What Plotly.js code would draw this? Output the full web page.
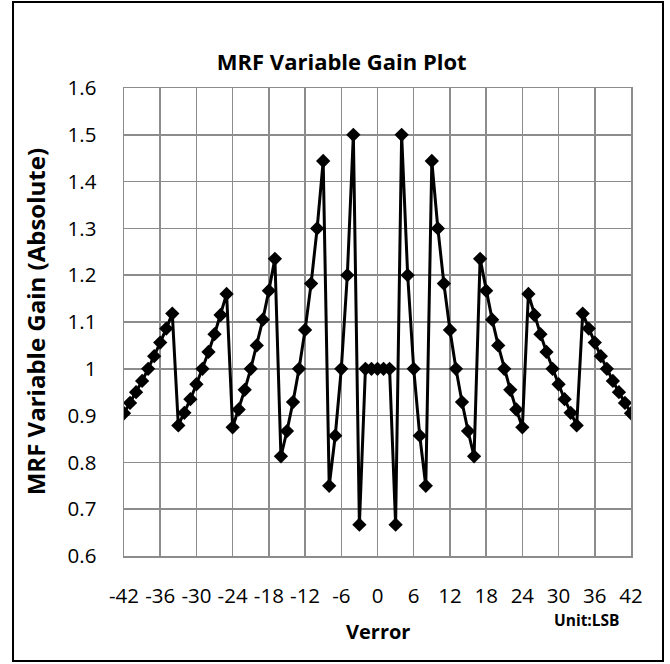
<!DOCTYPE html>
<html>
<head>
<meta charset="utf-8">
<script src="https://cdn.plot.ly/plotly-3.0.1.min.js"></script>
<style>
  html, body { margin: 0; padding: 0; background: #fff; }
  #wrap { position: relative; width: 670px; height: 664px; }
  #chart { position: absolute; left: 0; top: 0; width: 670px; height: 664px; }
  #frame { position: absolute; left: 12px; top: 1px; width: 648px; height: 657px; border: 2.5px solid #000; pointer-events: none; }
</style>
</head>
<body>
<div id="wrap">
  <div id="chart"></div>
  <div id="frame"></div>
</div>
<script>
// Verror (LSB)
const verror = [
  -42, -41, -40, -39, -38, -37, -36, -35, -34,
  -33, -32, -31, -30, -29, -28, -27, -26, -25,
  -24, -23, -22, -21, -20, -19, -18, -17,
  -16, -15, -14, -13, -12, -11, -10, -9,
  -8, -7, -6, -5, -4,
  -3,
  -2, -1, 0, 1, 2,
  3,
  4, 5, 6, 7, 8,
  9, 10, 11, 12, 13, 14, 15, 16,
  17, 18, 19, 20, 21, 22, 23, 24,
  25, 26, 27, 28, 29, 30, 31, 32, 33,
  34, 35, 36, 37, 38, 39, 40, 41, 42
];
// MRF variable gain (absolute)
const gain = [
  0.905, 0.927, 0.950, 0.974, 1.000, 1.027, 1.056, 1.086, 1.118,
  0.879, 0.906, 0.935, 0.967, 1.000, 1.036, 1.074, 1.115, 1.160,
  0.875, 0.913, 0.955, 1.000, 1.050, 1.105, 1.167, 1.235,
  0.813, 0.867, 0.929, 1.000, 1.083, 1.182, 1.300, 1.444,
  0.750, 0.857, 1.000, 1.200, 1.500,
  0.667,
  1.000, 1.000, 1.000, 1.000, 1.000,
  0.667,
  1.500, 1.200, 1.000, 0.857, 0.750,
  1.444, 1.300, 1.182, 1.083, 1.000, 0.929, 0.867, 0.813,
  1.235, 1.167, 1.105, 1.050, 1.000, 0.955, 0.913, 0.875,
  1.160, 1.115, 1.074, 1.036, 1.000, 0.967, 0.935, 0.906, 0.879,
  1.118, 1.086, 1.056, 1.027, 1.000, 0.974, 0.950, 0.927, 0.905
];
const xTicks = [-42, -36, -30, -24, -18, -12, -6, 0, 6, 12, 18, 24, 30, 36, 42];
const yTicks = [0.6, 0.7, 0.8, 0.9, 1, 1.1, 1.2, 1.3, 1.4, 1.5, 1.6];

const FONT = '"Open Sans", Lato, sans-serif';

const trace = {
  x: verror,
  y: gain,
  type: 'scatter',
  mode: 'lines+markers',
  line: { color: '#000', width: 3 },
  marker: { symbol: 'diamond', size: 11, color: '#000' },
  hoverinfo: 'x+y'
};

const layout = {
  width: 670,
  height: 664,
  margin: { l: 124, r: 39, t: 88, b: 108 },
  paper_bgcolor: '#fff',
  plot_bgcolor: '#fff',
  showlegend: false,
  font: { family: FONT, color: '#000', size: 20 },
  title: {
    text: '<b>MRF Variable Gain Plot</b>',
    font: { family: FONT, size: 22, color: '#000' },
    xref: 'container', x: 0.51, xanchor: 'center',
    yref: 'container', y: 0.906, yanchor: 'middle'
  },
  xaxis: {
    range: [-42, 42],
    tickmode: 'array',
    tickvals: xTicks,
    ticktext: xTicks.map(String),
    showgrid: true,
    gridcolor: '#8c8c8c',
    gridwidth: 1.5,
    zeroline: false,
    showline: true,
    linecolor: '#8c8c8c',
    linewidth: 1.5,
    mirror: true,
    ticks: '',
    ticklabelstandoff: 21,
    tickfont: { family: FONT, size: 20.5, color: '#000' }
  },
  yaxis: {
    range: [0.6, 1.6],
    tickmode: 'array',
    tickvals: yTicks,
    ticktext: yTicks.map(String),
    showgrid: true,
    gridcolor: '#8c8c8c',
    gridwidth: 1.5,
    zeroline: false,
    showline: true,
    linecolor: '#8c8c8c',
    linewidth: 1.5,
    mirror: true,
    ticks: '',
    ticklabelstandoff: 22,
    tickfont: { family: FONT, size: 20.5, color: '#000' }
  },
  annotations: [
    {
      text: '<b>MRF Variable Gain (Absolute)</b>',
      xref: 'paper', yref: 'paper',
      x: -0.175, y: 0.5, xanchor: 'center', yanchor: 'middle',
      textangle: -90, showarrow: false,
      font: { family: FONT, size: 24, color: '#000' }
    },
    {
      text: '<b>Verror</b>',
      xref: 'paper', yref: 'paper',
      x: 0.5, y: -0.162, xanchor: 'center', yanchor: 'middle',
      showarrow: false,
      font: { family: FONT, size: 20, color: '#000' }
    },
    {
      text: '<b>Unit:LSB</b>',
      xref: 'paper', yref: 'paper',
      x: 0.913, y: -0.137, xanchor: 'center', yanchor: 'middle',
      showarrow: false,
      font: { family: FONT, size: 15.5, color: '#000' }
    }
  ]
};

Plotly.newPlot('chart', [trace], layout, { displayModeBar: false, staticPlot: true });
</script>
</body>
</html>
